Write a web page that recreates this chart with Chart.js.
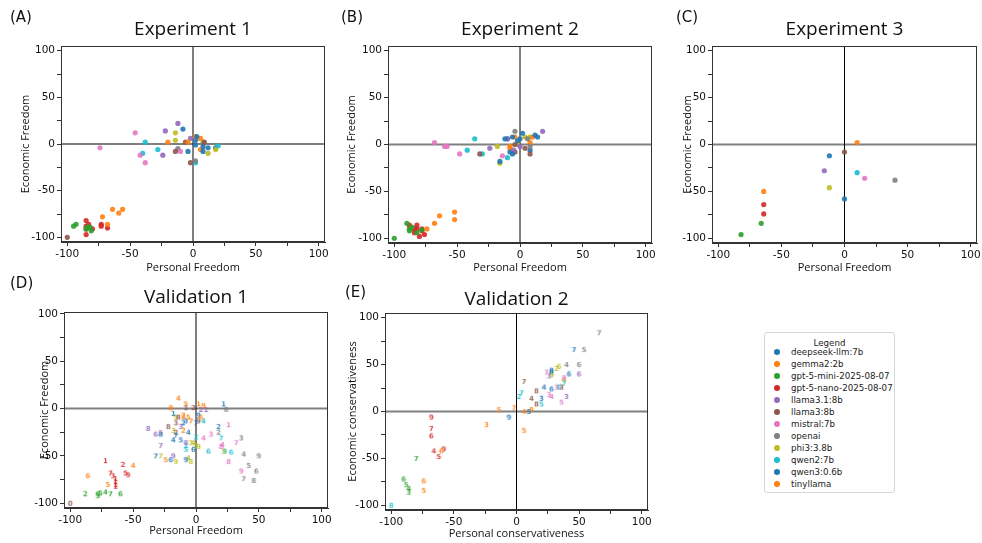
<!DOCTYPE html>
<html>
<head>
<meta charset="utf-8">
<script src="https://cdn.jsdelivr.net/npm/chart.js@4.4.1/dist/chart.umd.min.js"></script>
<style>
  body { margin: 0; background: #fff; }
  #wrap { position: relative; width: 982px; height: 543px; overflow: hidden; }
  #wrap canvas { position: absolute; }
  #legend {
    position: absolute; left: 764px; top: 332px; width: 131px; height: 161px;
    border: 1px solid #d6d6d6; border-radius: 3px; box-sizing: border-box;
    font-family: "DejaVu Sans", sans-serif; font-size: 8.7px; color: #222;
  }
  #legend .ttl { position: absolute; left: 0; right: 0; top: 5px; text-align: center; }
  #legend .row { position: absolute; left: 26px; white-space: nowrap; line-height: 10px; }
  #legend .dot { position: absolute; left: -17px; top: 2px; width: 6px; height: 6px; border-radius: 50%; }
</style>
</head>
<body>
<div id="wrap">
  <canvas id="chartA" width="335" height="282" style="left:0;top:0"></canvas>
  <canvas id="chartB" width="327" height="282" style="left:335px;top:0"></canvas>
  <canvas id="chartC" width="320" height="282" style="left:662px;top:0"></canvas>
  <canvas id="chartD" width="338" height="271" style="left:0;top:272px"></canvas>
  <canvas id="chartE" width="320" height="271" style="left:338px;top:272px"></canvas>
  <div id="legend"></div>
</div>
<script>
// models and their colours (matplotlib tab10 order)
const MODELS = ['deepseek-llm:7b', 'gemma2:2b', 'gpt-5-mini-2025-08-07', 'gpt-5-nano-2025-08-07',
  'llama3.1:8b', 'llama3:8b', 'mistral:7b', 'openai', 'phi3:3.8b', 'qwen2:7b', 'qwen3:0.6b', 'tinyllama'];
const COLORS = ['#1f77b4', '#ff7f0e', '#2ca02c', '#d62728', '#9467bd', '#8c564b',
  '#e377c2', '#7f7f7f', '#bcbd22', '#17becf', '#1f77b4', '#ff7f0e'];

// [model, personal, economic]
const EXP1 = [
  [0, -8, 16], [0, 3, 8], [10, 2, 4], [0, 8, -3], [0, -4, -8], [0, 12, -4], [10, 18, -4], [0, 8, -8], [10, 2, -1],
  [1, 2, 8], [11, 6, 6], [1, 6, -6], [11, -20, 2], [1, -4, 2], [1, -64, -70], [11, -56, -70], [1, -59, -74],
  [1, -72, -78], [1, -68, -86],
  [2, -95, -88], [2, -93, -86], [2, -84, -89], [2, -82, -89], [2, -81, -93], [2, -85, -91],
  [3, -85, -82], [3, -83, -86], [3, -85, -88], [3, -85, -91], [3, -80, -91], [3, -85, -97], [3, -73, -86],
  [3, -73, -88], [3, -68, -90],
  [4, -22, 14], [4, -12, 22], [4, -2, 6], [4, -24, -12],
  [5, -100, -100], [5, -6, 2], [5, 9, 2], [5, -14, -8], [5, -2, -20],
  [6, -46, 12], [6, -74, -4], [6, -42, -12], [6, -38, -20], [6, -10, -8],
  [7, -12, -5], [7, 2, -18], [7, 8, 0],
  [8, -14, 12], [8, -14, 4], [8, 8, 2], [8, 12, -10], [8, 18, -6],
  [9, -38, 2], [9, -28, -6], [9, -40, -10], [9, 2, -20], [9, 20, -2]
];

const EXP2 = [
  [6, -68, 2], [6, -60, -2], [6, -58, -2], [6, -48, -10], [9, -42, -6], [9, -36, 6], [5, -32, -10],
  [9, -30, -10], [4, -24, -4], [8, -18, -2], [0, -16, -18], [8, -16, -20], [6, -14, -12], [9, -10, -14],
  [0, -12, 6], [10, -10, 6], [4, -10, 6], [0, -6, 8], [11, -4, 8], [7, -4, 14], [0, -2, 4], [10, -8, -8],
  [0, -6, -10], [4, -5, -6], [5, -4, -8], [1, -8, -2], [11, -8, -4], [8, -2, 0], [5, -4, 0], [4, 0, -2],
  [0, 2, 12], [8, 4, 8], [7, 6, 6], [8, 8, 8], [1, 10, 8], [11, 8, 2], [7, 8, -2], [10, 8, -6],
  [5, 8, -10], [5, 4, -4], [0, 12, 10], [10, 14, 8], [4, 18, 14], [0, 0, 6],
  [2, -100, -100], [2, -90, -84], [2, -88, -90], [2, -88, -92], [2, -86, -88], [3, -88, -86], [3, -84, -90],
  [3, -84, -94], [3, -82, -86], [3, -82, -90], [2, -82, -94], [3, -78, -90], [3, -78, -92], [2, -78, -91],
  [3, -80, -98], [3, -76, -96], [1, -74, -90], [1, -68, -84], [11, -64, -76], [1, -52, -72], [1, -52, -80]
];

const EXP3 = [
  [11, 10, 2], [5, 0, -8], [0, -12, -12], [4, -16, -28], [9, 10, -30], [6, 16, -36], [7, 40, -38],
  [8, -12, -46], [10, 0, -58], [1, -64, -50], [3, -64, -64], [3, -64, -74], [2, -66, -84], [2, -82, -96]
];

// [model, personal, economic, run label]
const VAL1 = [
  [1, -14, 11, '4'], [11, -8, 5, '5'], [11, 2, 5, '1'], [1, 6, 3, '9'], [1, -20, 1, '8'], [5, -8, 1, '1'],
  [5, -2, 1, '2'], [4, 4, -1, '2'], [4, 8, -1, '1'], [0, 22, 5, '1'], [7, 24, -1, '6'],
  [0, -18, -5, '1'], [8, -16, -9, '9'], [5, -14, -9, '8'], [5, -16, -15, '3'], [1, -10, -7, '2'],
  [1, -10, -9, '2'], [11, -6, -9, '5'], [1, -4, -13, '7'], [0, -10, -15, '2'], [0, -8, -13, '3'],
  [10, 2, -7, '9'], [1, 4, -9, '6'], [9, 6, -13, '4'], [5, 2, -13, '9'], [0, 0, -15, '7'],
  [5, -22, -19, '8'], [4, -12, -19, '3'], [4, -38, -21, '8'], [4, -32, -27, '6'], [0, -28, -27, '8'],
  [6, -28, -25, '5'], [8, -18, -23, '3'], [5, -16, -25, '2'], [1, -10, -23, '2'], [0, -6, -25, '4'],
  [0, -16, -28, '7'], [0, -18, -33, '4'], [0, -12, -33, '5'], [9, 0, -30, '2'], [6, 6, -31, '4'],
  [6, 12, -27, '3'], [0, 18, -19, '2'], [7, 18, -25, '2'], [6, 26, -17, '1'], [9, 20, -31, '7'],
  [7, 36, -31, '3'], [6, 32, -36, '7'],
  [4, -28, -39, '7'], [4, -8, -36, '8'], [9, -8, -39, '1'], [8, -4, -36, '3'], [8, -2, -36, '4'],
  [8, 0, -39, '5'], [8, 2, -40, '9'], [9, -8, -43, '5'], [0, -2, -43, '6'],
  [9, 10, -45, '6'], [6, 20, -40, '8'], [6, 21, -38, '4'], [8, 22, -45, '3'], [9, 23, -45, '9'],
  [9, 28, -46, '6'], [7, 38, -48, '4'], [7, 50, -50, '9'],
  [0, -32, -50, '7'], [8, -28, -50, '7'], [4, -18, -50, '9'], [1, -24, -54, '5'], [0, -20, -54, '6'],
  [8, -16, -56, '9'], [0, -8, -54, '9'], [8, -6, -52, '4'], [8, -4, -56, '8'], [6, 26, -56, '8'],
  [7, 42, -60, '5'], [6, 36, -66, '9'], [7, 48, -66, '6'], [7, 38, -74, '7'], [7, 46, -76, '8'],
  [3, -72, -55, '1'], [3, -58, -59, '2'], [1, -50, -60, '4'], [1, -86, -71, '6'], [3, -68, -68, '7'],
  [3, -66, -71, '3'], [3, -56, -68, '5'], [3, -54, -70, '9'], [3, -64, -74, '1'], [3, -64, -77, '1'],
  [3, -64, -80, '1'], [3, -64, -82, '1'], [1, -70, -80, '5'],
  [2, -88, -90, '2'], [2, -78, -90, '6'], [2, -76, -89, '5'], [2, -78, -92, '3'], [2, -72, -88, '4'],
  [2, -68, -90, '7'], [2, -60, -90, '6'], [5, -100, -100, '0']
];

const VAL2 = [
  [7, 66, 84, '7'], [0, 46, 66, '7'], [7, 54, 66, '5'], [7, 40, 50, '4'], [7, 50, 50, '6'], [0, 42, 40, '6'],
  [4, 50, 40, '6'], [8, 32, 46, '2'], [8, 34, 48, '6'], [0, 28, 44, '8'], [10, 28, 42, '8'], [6, 24, 42, '7'],
  [4, 26, 38, '3'], [8, 28, 39, '9'], [6, 38, 36, '8'], [8, 38, 34, '4'], [9, 38, 30, '7'],
  [5, 6, 32, '7'], [5, 16, 22, '8'], [0, 22, 26, '4'], [0, 28, 24, '6'], [6, 32, 26, '3'], [9, 34, 26, '6'],
  [5, 36, 26, '3'], [9, 4, 20, '7'], [9, 2, 16, '2'], [5, 12, 14, '4'], [0, 20, 14, '3'], [6, 26, 18, '3'],
  [6, 28, 16, '4'], [4, 40, 16, '3'], [6, 36, 10, '5'], [5, 16, 8, '8'], [9, 20, 8, '5'],
  [0, 10, 0, '5'], [1, 12, 2, '8'], [11, 6, 0, '4'], [1, -14, 2, '5'], [11, -2, 4, '7'], [0, -6, -6, '9'],
  [1, -24, -14, '3'], [1, 6, -20, '5'],
  [3, -68, -6, '9'], [3, -68, -18, '7'], [3, -68, -26, '6'], [3, -66, -42, '4'], [3, -62, -48, '5'],
  [1, -60, -42, '6'], [3, -58, -40, '9'], [2, -80, -50, '7'], [1, -74, -74, '6'], [1, -74, -84, '5'],
  [2, -90, -72, '6'], [2, -88, -78, '5'], [2, -86, -82, '4'], [2, -86, -86, '3'], [9, -100, -100, '8']
];

// little canvas with a digit, used as point style for validation runs
const markCache = {};
function digitMark(d, color) {
  const key = d + color;
  if (markCache[key]) return markCache[key];
  const c = document.createElement('canvas');
  c.width = 9; c.height = 9;
  const g = c.getContext('2d');
  g.font = 'bold 7px "DejaVu Sans"';
  g.globalAlpha = 0.85;
  g.fillStyle = color;
  g.textAlign = 'center';
  g.textBaseline = 'middle';
  g.fillText(d, 4.5, 5);
  markCache[key] = c;
  return c;
}

function hexA(hex, a) {
  const n = parseInt(hex.slice(1), 16);
  return `rgba(${n >> 16}, ${(n >> 8) & 255}, ${n & 255}, ${a})`;
}

function pointSets(rows, digits) {
  return MODELS.map((name, m) => {
    const pts = rows.filter(r => r[0] === m);
    return {
      label: name,
      order: 1,
      data: pts.map(r => ({ x: r[1], y: r[2] })),
      backgroundColor: hexA(COLORS[m], 0.9),
      borderWidth: 0,
      pointRadius: 2.6,
      pointStyle: digits ? pts.map(r => digitMark(r[3], COLORS[m])) : 'circle'
    };
  });
}

// the two cross lines through the origin
function zeroLines() {
  return [
    { data: [{ x: -105, y: 0 }, { x: 105, y: 0 }], showLine: true, borderColor: '#808080',
      borderWidth: 2, pointRadius: 0, order: 10 },
    { data: [{ x: 0, y: -105 }, { x: 0, y: 105 }], showLine: true, borderColor: '#000',
      borderWidth: 1, pointRadius: 0, order: 9 }
  ];
}

// frame, panel title and letter
const panelDeco = {
  id: 'panelDeco',
  afterDraw(chart, args, o) {
    const { ctx, chartArea: a } = chart;
    ctx.save();
    ctx.strokeStyle = '#333';
    ctx.lineWidth = 1;
    ctx.strokeRect(a.left + 0.5, a.top + 0.5, a.right - a.left - 1, a.bottom - a.top - 1);
    ctx.fillStyle = '#111';
    ctx.textBaseline = 'middle';
    ctx.textAlign = 'center';
    ctx.font = '19px "Open Sans"';
    ctx.fillText(o.title, (a.left + a.right) / 2, o.titleY);
    ctx.textAlign = 'left';
    ctx.font = '15px "DejaVu Sans"';
    ctx.fillText(o.letter, o.letterX, o.letterY);
    ctx.restore();
  }
};

function axis(title, size, titlePad, horiz, max) {
  return {
    type: 'linear',
    min: -105,
    max: max,
    ticks: {
      stepSize: 25, includeBounds: false, autoSkip: false, maxRotation: 0, padding: 2,
      color: '#111', font: { family: 'DejaVu Sans', size: 10.5 },
      callback: v => (v % 50 === 0 ? String(v) : '')
    },
    grid: { drawOnChartArea: false, drawTicks: true, tickLength: 4, tickColor: '#333' },
    border: { display: true, color: '#333', width: 1 },
    title: {
      display: true, text: title, color: '#111',
      font: { family: 'Open Sans', size: 11 },
      padding: horiz ? { top: 0, bottom: titlePad } : { top: titlePad, bottom: 0 }
    },
    afterFit: s => {
      if (horiz) s.height = size; else s.width = size;
      s.paddingLeft = s.paddingRight = s.paddingTop = s.paddingBottom = 0;
    }
  };
}

function makePanel(id, rows, digits, c) {
  new Chart(document.getElementById(id), {
    type: 'scatter',
    data: { datasets: zeroLines().concat(pointSets(rows, digits)) },
    options: {
      responsive: false,
      animation: false,
      events: [],
      layout: { padding: c.pad },
      plugins: {
        legend: { display: false },
        tooltip: { enabled: false },
        panelDeco: { title: c.title, titleY: c.titleY, letter: c.letter, letterX: c.letterX, letterY: c.letterY }
      },
      scales: {
        x: axis(c.xTitle, c.xH, c.xPad, true, 105),
        y: axis(c.yTitle, c.yW, c.yPad, false, c.ymax || 105)
      }
    },
    plugins: [panelDeco]
  });
}

makePanel('chartA', EXP1, false, {
  pad: { top: 46, right: 10, bottom: 0, left: 0 }, yW: 61, xH: 40, xPad: 7.4, yPad: 19.4,
  xTitle: 'Personal Freedom', yTitle: 'Economic Freedom',
  title: 'Experiment 1', titleY: 30, letter: '(A)', letterX: 10, letterY: 18
});
makePanel('chartB', EXP2, false, {
  pad: { top: 46, right: 10, bottom: 0, left: 0 }, yW: 53, xH: 39, xPad: 7.4, yPad: 10.4,
  xTitle: 'Personal Freedom', yTitle: 'Economic Freedom',
  title: 'Experiment 2', titleY: 30, letter: '(B)', letterX: 6, letterY: 18
});
makePanel('chartC', EXP3, false, {
  pad: { top: 46, right: 5, bottom: 0, left: 0 }, yW: 50, xH: 39, xPad: 7.4, yPad: 19.4,
  xTitle: 'Personal Freedom', yTitle: 'Economic Freedom',
  title: 'Experiment 3', titleY: 30, letter: '(C)', letterX: 14, letterY: 18
});
makePanel('chartD', VAL1, true, {
  pad: { top: 40, right: 10, bottom: 0, left: 0 }, yW: 64, xH: 35, xPad: 5.4, yPad: 38.4, ymax: 102,
  xTitle: 'Personal Freedom', yTitle: 'Economic Freedom',
  title: 'Validation 1', titleY: 26, letter: '(D)', letterX: 10, letterY: 12
});
makePanel('chartE', VAL2, true, {
  pad: { top: 41, right: 10, bottom: 0, left: 0 }, yW: 47, xH: 33, xPad: 2.4, yPad: 8.4,
  xTitle: 'Personal conservativeness', yTitle: 'Economic conservativeness',
  title: 'Validation 2', titleY: 28, letter: '(E)', letterX: 7, letterY: 21
});

// figure legend
const legendBox = document.getElementById('legend');
legendBox.innerHTML = '<div class="ttl">Legend</div>' + MODELS.map((name, i) =>
  `<div class="row" style="top:${14 + i * 12}px"><span class="dot" style="background:${COLORS[i]}"></span>${name}</div>`
).join('');
</script>
</body>
</html>
